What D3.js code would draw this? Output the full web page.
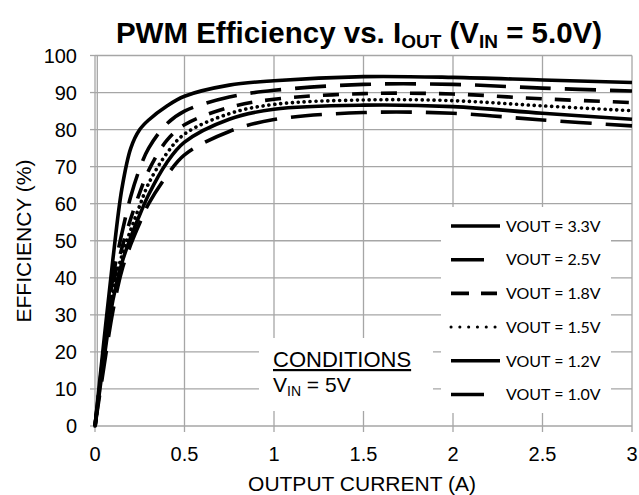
<!DOCTYPE html>
<html><head><meta charset="utf-8">
<script src="https://cdn.jsdelivr.net/npm/d3@7/dist/d3.min.js"></script>
<style>
html,body{margin:0;padding:0;background:#fff;}
svg{display:block;}
text{font-family:"Liberation Sans",Arial,sans-serif;fill:#000;}
.leg{font-family:Lato,"Liberation Sans",sans-serif;}
</style></head>
<body>
<svg id="c" width="639" height="495"></svg>
<script>
// ---- data ----
const currents = [0, 0.05, 0.1, 0.15, 0.2, 0.25, 0.3, 0.4, 0.5, 0.75, 1.0, 1.5, 2.0, 2.5, 3.0];
const eff33 = [0, 23, 45, 64, 75, 80, 82.6, 86.3, 89.0, 92, 93.2, 94.3, 94.1, 93.4, 92.7];
const eff25 = [0, 21, 40, 52, 62, 69.5, 75, 81.5, 85, 88.8, 90.6, 92.2, 92.2, 91.2, 90.4];
const eff18 = [0, 20, 38, 48, 56, 63, 69, 77, 81.3, 86, 88.2, 89.7, 89.6, 88.3, 87.3];
const eff15 = [0, 19, 36, 46, 53, 59.5, 65.5, 73.5, 78.8, 84.3, 86.8, 88.0, 87.8, 86.4, 85.1];
const eff12 = [0, 18, 34, 44, 51, 57, 62.5, 71, 76.6, 82.8, 85.5, 86.6, 86.2, 84.4, 82.8];
const eff10 = [0, 16, 31, 42, 49, 54.8, 60, 67.5, 73.2, 79.5, 82.7, 84.6, 84.4, 82.6, 81.0];
const seriesNames = ["VOUT = 3.3V", "VOUT = 2.5V", "VOUT = 1.8V", "VOUT = 1.5V", "VOUT = 1.2V", "VOUT = 1.0V"];
const xTicks = [0, 0.5, 1, 1.5, 2, 2.5, 3];
const yTicks = [0, 10, 20, 30, 40, 50, 60, 70, 80, 90, 100];

// ---- styles ----
const dashes = [null, "31,14", "16,13", "0.1,5.8", null, "31,14"];
const legDashes = [null, "33,20", "18,12", "0.1,8.7", null, "33,20"];
const caps = ["butt", "butt", "butt", "round", "butt", "butt"];
const seriesData = [eff33, eff25, eff18, eff15, eff12, eff10];

const svg = d3.select("#c");
const x = d3.scaleLinear().domain([0, 3]).range([95, 632]);
const y = d3.scaleLinear().domain([0, 100]).range([426, 55.5]);
const grid = "#a6a6a6";

// gridlines
svg.append("g").selectAll("line").data(yTicks).join("line")
  .attr("x1", x(0)).attr("x2", x(3)).attr("y1", d => y(d)).attr("y2", d => y(d))
  .attr("stroke", grid).attr("stroke-width", 1.3);
svg.append("g").selectAll("line").data(xTicks).join("line")
  .attr("y1", y(0) + 6).attr("y2", y(100)).attr("x1", d => x(d)).attr("x2", d => x(d))
  .attr("stroke", grid).attr("stroke-width", 1.3);
// extra axis line
svg.append("line").attr("x1", x(0) + 2.3).attr("x2", x(0) + 2.3).attr("y1", y(0)).attr("y2", y(100))
  .attr("stroke", grid).attr("stroke-width", 1.3);
// y ticks
svg.append("g").selectAll("line").data(yTicks).join("line")
  .attr("x1", x(0) - 5).attr("x2", x(0)).attr("y1", d => y(d)).attr("y2", d => y(d))
  .attr("stroke", grid).attr("stroke-width", 1.3);

// white boxes (conditions, legend)
svg.append("rect").attr("x", 259).attr("y", 338).attr("width", 174).attr("height", 73).attr("fill", "#fff");
svg.append("rect").attr("x", 441).attr("y", 207).attr("width", 170).attr("height", 206).attr("fill", "#fff");

// tick labels
svg.append("g").selectAll("text").data(yTicks).join("text")
  .attr("x", 77).attr("y", d => y(d)).attr("dy", "0.35em").attr("text-anchor", "end")
  .attr("font-size", 20).text(d => d);
svg.append("g").selectAll("text").data(xTicks).join("text")
  .attr("x", d => x(d)).attr("y", 461).attr("text-anchor", "middle")
  .attr("font-size", 20).text(d => d);

// curves
const line = d3.line().x(d => x(d[0])).y(d => y(d[1])).curve(d3.curveCatmullRom.alpha(0.5));
seriesData.forEach((vals, i) => {
  const pts = currents.map((c, k) => [c, vals[k]]);
  svg.append("path").attr("d", line(pts)).attr("fill", "none")
    .attr("stroke", "#000").attr("stroke-width", 3.6)
    .attr("stroke-dasharray", dashes[i]).attr("stroke-linecap", caps[i])
    .attr("stroke-linejoin", "round");
});

// legend
const legY = d3.scaleLinear().domain([0, 5]).range([226, 394.5]);
const leg = svg.append("g");
seriesNames.forEach((name, i) => {
  leg.append("line").attr("x1", 451).attr("x2", dashes[i] ? 497 : 500)
    .attr("y1", legY(i)).attr("y2", legY(i))
    .attr("stroke", "#000").attr("stroke-width", i === 3 ? 3 : 3.6)
    .attr("stroke-dasharray", legDashes[i]).attr("stroke-linecap", caps[i]);
  leg.append("text").attr("class", "leg").attr("x", 506).attr("y", legY(i)).attr("dy", "0.36em")
    .attr("font-size", 16).text(name);
});

// conditions
svg.append("text").attr("x", 273).attr("y", 367).attr("font-size", 22)
  .style("text-decoration", "underline").text("CONDITIONS");
const vin = svg.append("text").attr("x", 273).attr("y", 391.5).attr("font-size", 21);
vin.append("tspan").text("V");
vin.append("tspan").attr("font-size", 14).attr("dy", 4).text("IN");
vin.append("tspan").attr("dy", -4).text(" = 5V");

// axis titles
svg.append("text").attr("x", 362).attr("y", 491).attr("text-anchor", "middle")
  .attr("font-size", 21).text("OUTPUT CURRENT (A)");
svg.append("text").attr("transform", "translate(30.5,241) rotate(-90)").attr("text-anchor", "middle")
  .attr("font-size", 21).text("EFFICIENCY (%)");

// title
const t = svg.append("text").attr("x", 359).attr("y", 43).attr("text-anchor", "middle")
  .attr("font-size", 29.5).attr("font-weight", "bold");
t.append("tspan").text("PWM Efficiency vs. I");
t.append("tspan").attr("font-size", 19).attr("dy", 5).text("OUT");
t.append("tspan").attr("dy", -5).text(" (V");
t.append("tspan").attr("font-size", 19).attr("dy", 5).text("IN");
t.append("tspan").attr("dy", -5).text(" = 5.0V)");
</script>
</body></html>
